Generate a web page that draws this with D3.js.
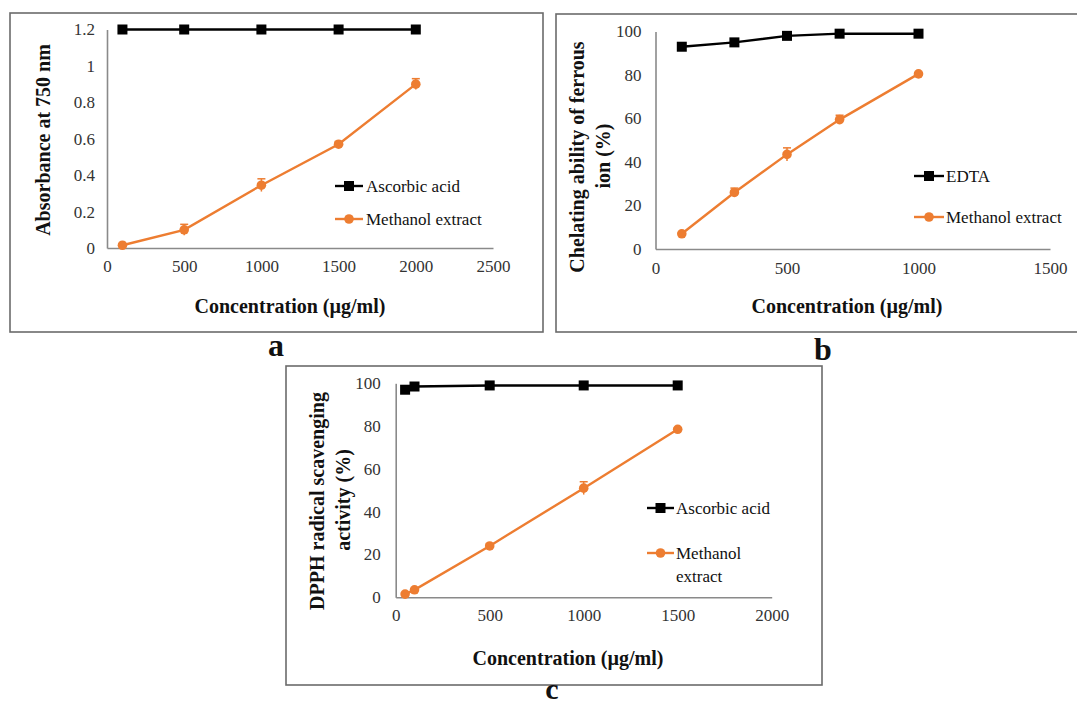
<!DOCTYPE html>
<html>
<head>
<meta charset="utf-8">
<script src="https://cdn.jsdelivr.net/npm/d3@7"></script>
<style>
  html, body { margin: 0; padding: 0; background: #fff; }
  svg { display: block; }
  svg text { font-family: "Liberation Serif", "Times New Roman", "DejaVu Serif", serif !important; }
</style>
</head>
<body>
<svg id="chart" width="1077" height="708"></svg>
<script>
// ---------- DATA ----------
// Panel a: Total phenolic content (absorbance)
const aConc = [100, 500, 1000, 1500, 2000];
const aAscorbic = [1.2, 1.2, 1.2, 1.2, 1.2];
const aMethanol = [0.015, 0.10, 0.345, 0.57, 0.90];
const aMethanolErr = [0.005, 0.03, 0.035, 0.015, 0.03];
const aXTicks = [0, 500, 1000, 1500, 2000, 2500];
const aYTicks = [0, 0.2, 0.4, 0.6, 0.8, 1, 1.2];

// Panel b: Chelating ability of ferrous ion
const bConc = [100, 300, 500, 700, 1000];
const bEDTA = [93, 95, 98, 99, 99];
const bMethanol = [7, 26, 43.5, 59.5, 80.5];
const bMethanolErr = [0.5, 2, 3, 2, 0.5];
const bXTicks = [0, 500, 1000, 1500];
const bYTicks = [0, 20, 40, 60, 80, 100];

// Panel c: DPPH radical scavenging
const cConc = [50, 100, 500, 1000, 1500];
const cAscorbic = [97, 98.5, 99, 99, 99];
const cMethanol = [1.5, 3.5, 24, 51, 78.5];
const cMethanolErr = [0.5, 0.5, 1, 3, 0.5];
const cXTicks = [0, 500, 1000, 1500, 2000];
const cYTicks = [0, 20, 40, 60, 80, 100];

const xTitle = "Concentration (µg/ml)";

// ---------- STYLE ----------
const BLACK = "#000000";
const ORANGE = "#ED7D31";
const AXIS = "#8a8a8a";
const FRAME = "#6b6b6b";
const TICKCOL = "#333333";
const SERIF = '"Liberation Serif", "Times New Roman", "DejaVu Serif", serif';

const svg = d3.select("#chart");

function frame(x0, y0, x1, y1) {
  svg.append("rect")
    .attr("x", x0).attr("y", y0)
    .attr("width", x1 - x0).attr("height", y1 - y0)
    .attr("fill", "none").attr("stroke", FRAME).attr("stroke-width", 1.6);
}

function panel(cfg) {
  const x = d3.scaleLinear().domain(cfg.xDomain).range(cfg.xRange);
  const y = d3.scaleLinear().domain(cfg.yDomain).range(cfg.yRange);
  const g = svg.append("g");

  // axes
  const yAxis = d3.axisLeft(y).tickValues(cfg.yTicks).tickSize(0)
    .tickPadding(cfg.yPad).tickFormat(d => String(+d.toFixed(2)));
  const gy = g.append("g").attr("transform", `translate(${cfg.xRange[0]},0)`).call(yAxis);
  const xAxis = d3.axisBottom(x).tickValues(cfg.xTicks).tickSize(0)
    .tickPadding(cfg.xPad).tickFormat(d => String(d));
  const gx = g.append("g").attr("transform", `translate(0,${cfg.yRange[0]})`).call(xAxis);
  [gx, gy].forEach(a => {
    a.attr("font-family", null).attr("font-size", null);
    a.select(".domain").attr("stroke", AXIS).attr("stroke-width", 1.6);
    a.selectAll("text").style("font-family", SERIF)
      .style("font-size", "17px").attr("fill", TICKCOL);
  });

  // series
  const line = (xs, ys) => d3.line().x((d, i) => x(xs[i])).y((d) => y(d))(ys);

  // black series
  g.append("path").attr("d", line(cfg.xs, cfg.s1))
    .attr("fill", "none").attr("stroke", BLACK).attr("stroke-width", 2.4);
  g.selectAll(".sq").data(cfg.s1).enter().append("rect")
    .attr("x", (d, i) => x(cfg.xs[i]) - 5).attr("y", d => y(d) - 5)
    .attr("width", 10).attr("height", 10).attr("fill", BLACK);

  // orange series
  g.append("path").attr("d", line(cfg.xs, cfg.s2))
    .attr("fill", "none").attr("stroke", ORANGE).attr("stroke-width", 2.4);
  // error bars
  cfg.s2.forEach((d, i) => {
    const cx = x(cfg.xs[i]);
    const top = y(d + cfg.err[i]), bot = y(d - cfg.err[i]);
    g.append("line").attr("x1", cx).attr("x2", cx).attr("y1", top).attr("y2", bot)
      .attr("stroke", ORANGE).attr("stroke-width", 1.5);
    g.append("line").attr("x1", cx - 4).attr("x2", cx + 4).attr("y1", top).attr("y2", top)
      .attr("stroke", ORANGE).attr("stroke-width", 1.5);
  });
  g.selectAll(".ci").data(cfg.s2).enter().append("circle")
    .attr("cx", (d, i) => x(cfg.xs[i])).attr("cy", d => y(d))
    .attr("r", 4.8).attr("fill", ORANGE);

  // legend
  const L = cfg.legend;
  g.append("line").attr("x1", L.x0).attr("x2", L.x1).attr("y1", L.y1).attr("y2", L.y1)
    .attr("stroke", BLACK).attr("stroke-width", 2.4);
  g.append("rect").attr("x", (L.x0 + L.x1) / 2 - 5).attr("y", L.y1 - 5)
    .attr("width", 10).attr("height", 10).attr("fill", BLACK);
  g.append("text").attr("x", L.tx).attr("y", L.y1).attr("dy", "0.35em")
    .style("font-size", "17px").attr("fill", "#111").text(L.t1);
  g.append("line").attr("x1", L.x0).attr("x2", L.x1).attr("y1", L.y2).attr("y2", L.y2)
    .attr("stroke", ORANGE).attr("stroke-width", 2.4);
  g.append("circle").attr("cx", (L.x0 + L.x1) / 2).attr("cy", L.y2).attr("r", 4.8)
    .attr("fill", ORANGE);
  L.t2.forEach((t, k) => {
    g.append("text").attr("x", L.tx).attr("y", L.y2 + k * 23).attr("dy", "0.35em")
      .style("font-size", "17px").attr("fill", "#111").text(t);
  });

  // titles
  g.append("text").attr("x", cfg.xt[0]).attr("y", cfg.xt[1]).attr("dy", "0.35em")
    .attr("text-anchor", "middle").style("font-weight", "bold").style("font-size", "20px")
    .attr("fill", "#111").text(xTitle);
  cfg.yt.forEach(t => {
    g.append("text").attr("transform", `translate(${t.x},${t.y}) rotate(-90)`)
      .attr("dy", "0.35em").attr("text-anchor", "middle").style("font-weight", "bold")
      .style("font-size", "20px").attr("fill", "#111").text(t.text);
  });
}

// frames
frame(10, 13, 543, 332);
frame(556, 14, 1085, 332);
frame(286, 366, 822, 685);

panel({
  xDomain: [0, 2500], xRange: [107, 493], yDomain: [0, 1.2], yRange: [248, 29.5],
  xTicks: aXTicks, yTicks: aYTicks, yPad: 12, xPad: 12,
  xs: aConc, s1: aAscorbic, s2: aMethanol, err: aMethanolErr,
  legend: { x0: 335, x1: 363, tx: 366, y1: 186, y2: 219, t1: "Ascorbic acid", t2: ["Methanol extract"] },
  xt: [290, 306],
  yt: [{ x: 43, y: 140, text: "Absorbance at 750 nm" }]
});

panel({
  xDomain: [0, 1500], xRange: [655.5, 1050], yDomain: [0, 100], yRange: [249, 31.5],
  xTicks: bXTicks, yTicks: bYTicks, yPad: 14, xPad: 13,
  xs: bConc, s1: bEDTA, s2: bMethanol, err: bMethanolErr,
  legend: { x0: 914, x1: 944, tx: 946, y1: 176, y2: 217, t1: "EDTA", t2: ["Methanol extract"] },
  xt: [847, 306],
  yt: [{ x: 577, y: 157, text: "Chelating ability of ferrous" }, { x: 603, y: 156, text: "ion (%)" }]
});

panel({
  xDomain: [0, 2000], xRange: [395.7, 771.7], yDomain: [0, 100], yRange: [597.3, 383.3],
  xTicks: cXTicks, yTicks: cYTicks, yPad: 15, xPad: 12,
  xs: cConc, s1: cAscorbic, s2: cMethanol, err: cMethanolErr,
  legend: { x0: 647, x1: 674, tx: 676, y1: 508, y2: 553, t1: "Ascorbic acid", t2: ["Methanol", "extract"] },
  xt: [568, 658],
  yt: [{ x: 317, y: 501, text: "DPPH radical scavenging" }, { x: 343, y: 500, text: "activity (%)" }]
});

// panel letters
const letters = [["a", 276, 356, 32], ["b", 823, 360, 32], ["c", 552, 699, 30]];
svg.selectAll(".lab").data(letters).enter().append("text")
  .attr("x", d => d[1]).attr("y", d => d[2]).attr("text-anchor", "middle")
  .style("font-weight", "bold").style("font-size", d => d[3] + "px").attr("fill", "#111")
  .text(d => d[0]);
</script>
</body>
</html>
